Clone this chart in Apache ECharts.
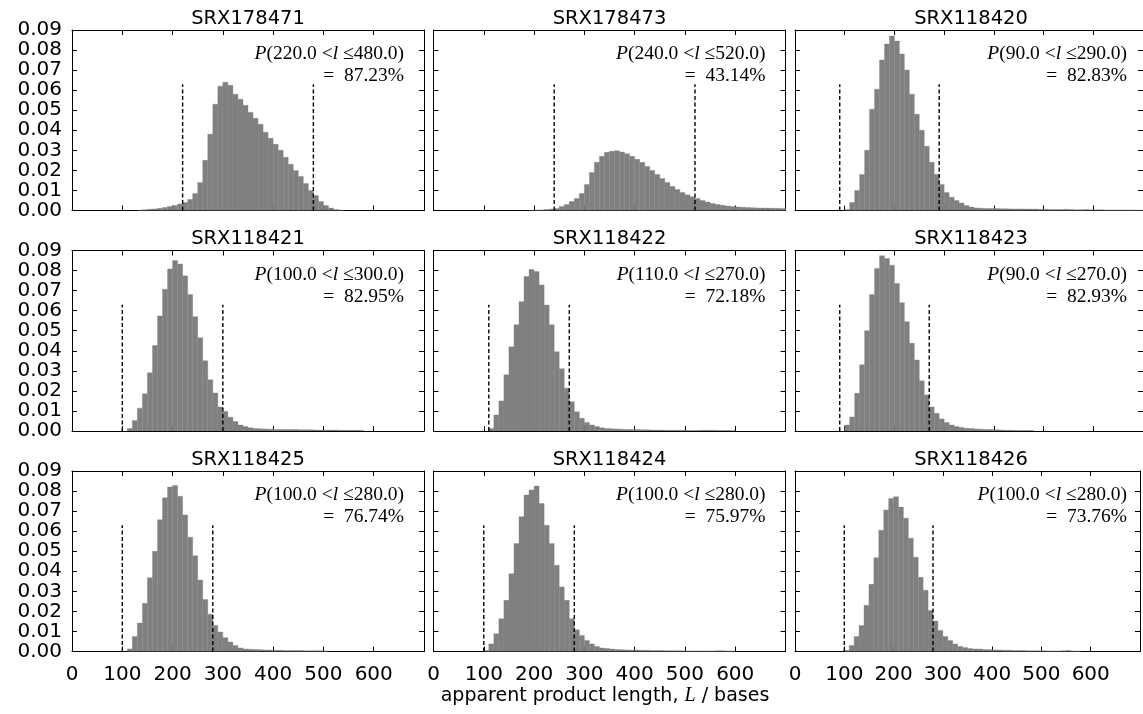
<!DOCTYPE html>
<html>
<head>
<meta charset="utf-8">
<title>apparent product length</title>
<script src="https://cdn.jsdelivr.net/npm/echarts@6/dist/echarts.min.js"></script>
<style>
html, body { margin: 0; padding: 0; background: #fff; }
#main { width: 1143px; height: 714px; }
</style>
</head>
<body>
<div id="main"></div>
<script>
// one panel per sample, row by row
const samples = ['SRX178471', 'SRX178473', 'SRX118420', 'SRX118421', 'SRX118422', 'SRX118423', 'SRX118425', 'SRX118424', 'SRX118426'];
// size window (dashed lines) and share of reads inside it
const lowCut = [220, 240, 90, 100, 110, 90, 100, 100, 100];
const highCut = [480, 520, 290, 300, 270, 270, 280, 280, 280];
const insideShare = ['87.23', '43.14', '82.83', '82.95', '72.18', '82.93', '76.74', '75.97', '73.76'];
// height the dashed lines reach
const cutTop = 0.063;

// histograms, 10 bases per bin, firstBin = left edge of first bin
const binWidth = 10;
const firstBin = [130, 190, 100, 110, 110, 100, 110, 100, 100];
const histSRX178471 = [0.0002, 0.0004, 0.0006, 0.0008, 0.0011, 0.0015, 0.002, 0.0025, 0.0032, 0.004, 0.0055, 0.0085, 0.014, 0.025, 0.038, 0.053, 0.062, 0.064, 0.0625, 0.058, 0.0555, 0.0525, 0.049, 0.046, 0.043, 0.039, 0.036, 0.033, 0.030, 0.0265, 0.023, 0.020, 0.017, 0.0135, 0.010, 0.0075, 0.0045, 0.0025, 0.0012, 0.0005, 0.0002];
const histSRX178473 = [0.0001, 0.0002, 0.0003, 0.0005, 0.0007, 0.001, 0.002, 0.003, 0.0045, 0.006, 0.0085, 0.013, 0.019, 0.024, 0.027, 0.029, 0.0295, 0.0298, 0.0292, 0.0283, 0.027, 0.0255, 0.024, 0.022, 0.020, 0.018, 0.016, 0.014, 0.012, 0.0105, 0.009, 0.0078, 0.0068, 0.006, 0.005, 0.0042, 0.0035, 0.003, 0.0026, 0.0022, 0.002, 0.0018, 0.0016, 0.0015, 0.0014, 0.0013, 0.0012, 0.0012, 0.0011, 0.0011, 0.001];
const histSRX118420 = [0.0005, 0.004, 0.010, 0.018, 0.030, 0.0505, 0.0605, 0.075, 0.083, 0.087, 0.0845, 0.078, 0.070, 0.058, 0.048, 0.040, 0.032, 0.024, 0.018, 0.013, 0.009, 0.0066, 0.005, 0.0037, 0.0025, 0.0017, 0.0013, 0.0011, 0.001, 0.001, 0.001, 0.0009, 0.0009, 0.0008, 0.0008, 0.0008, 0.0007, 0.0007, 0.0007, 0.0006, 0.0006, 0.0005, 0.0005, 0.0005, 0.0006, 0.0005, 0.0004, 0.0004, 0.0005, 0.0004, 0.0004, 0.0004, 0.0003, 0.0003, 0.0003, 0.0003, 0.0003, 0.0003, 0.0002, 0.0002];
const histSRX118421 = [0.0013, 0.0052, 0.0114, 0.0186, 0.029, 0.0426, 0.0574, 0.0707, 0.0808, 0.085, 0.0833, 0.0774, 0.068, 0.057, 0.0465, 0.035, 0.0256, 0.019, 0.012, 0.0097, 0.0069, 0.0047, 0.003, 0.0022, 0.0016, 0.0013, 0.0011, 0.001, 0.0009, 0.0008, 0.0008, 0.0007, 0.0007, 0.0007, 0.0006, 0.0006, 0.0006, 0.0005, 0.0005, 0.0005, 0.0005, 0.0005, 0.0004, 0.0004, 0.0004, 0.0004, 0.0003];
const histSRX118422 = [0.0013, 0.008, 0.015, 0.028, 0.042, 0.053, 0.0645, 0.077, 0.0805, 0.0795, 0.0728, 0.0628, 0.053, 0.0395, 0.031, 0.0213, 0.0146, 0.0096, 0.0063, 0.0043, 0.003, 0.0022, 0.0016, 0.0013, 0.0011, 0.001, 0.0009, 0.0008, 0.0007, 0.0007, 0.0006, 0.0006, 0.0005, 0.0005, 0.0005, 0.0004, 0.0004, 0.0004, 0.0004, 0.0003, 0.0003, 0.0003, 0.0004, 0.0004, 0.0004, 0.0003, 0.0003, 0.0002, 0.0002];
const histSRX118423 = [0.003, 0.007, 0.0188, 0.033, 0.050, 0.068, 0.081, 0.0874, 0.086, 0.0827, 0.0736, 0.064, 0.0545, 0.0437, 0.0354, 0.025, 0.018, 0.012, 0.0088, 0.006, 0.0042, 0.003, 0.0022, 0.0017, 0.0014, 0.0012, 0.001, 0.0009, 0.0008, 0.0007, 0.0006, 0.0005, 0.0004, 0.0004, 0.0003, 0.0003, 0.0002, 0.0002];
const histSRX118425 = [0.0013, 0.0075, 0.0142, 0.024, 0.0368, 0.050, 0.0657, 0.0766, 0.082, 0.0828, 0.0774, 0.068, 0.057, 0.0477, 0.0356, 0.0259, 0.0186, 0.013, 0.0097, 0.0069, 0.0047, 0.003, 0.0018, 0.0013, 0.0011, 0.001, 0.0009, 0.0008, 0.0007, 0.0006, 0.0006, 0.0005, 0.0005, 0.0005, 0.0005, 0.0004, 0.0004, 0.0004, 0.0004, 0.0003];
const histSRX118424 = [0.0005, 0.0038, 0.0088, 0.0163, 0.0255, 0.0388, 0.0538, 0.0672, 0.078, 0.0805, 0.0825, 0.0738, 0.063, 0.0538, 0.043, 0.0322, 0.0255, 0.0163, 0.0108, 0.008, 0.0055, 0.0038, 0.0025, 0.0018, 0.0015, 0.0012, 0.001, 0.0009, 0.0008, 0.0007, 0.0007, 0.0006, 0.0006, 0.0005, 0.0005, 0.0005, 0.0004, 0.0004, 0.0004, 0.0004, 0.0003, 0.0003, 0.0003, 0.0003, 0.0003, 0.0003, 0.0004, 0.0004, 0.0003, 0.0002];
const histSRX118426 = [0.0005, 0.003, 0.0075, 0.013, 0.023, 0.0335, 0.0468, 0.0605, 0.0705, 0.0763, 0.0772, 0.072, 0.0665, 0.0565, 0.047, 0.037, 0.0305, 0.0205, 0.0152, 0.0105, 0.0075, 0.0055, 0.0038, 0.0025, 0.002, 0.0015, 0.0013, 0.0012, 0.001, 0.0009, 0.0008, 0.0007, 0.0006, 0.0006, 0.0005, 0.0005, 0.0005, 0.0004, 0.0004, 0.0004, 0.0004, 0.0003, 0.0003, 0.0003, 0.0004, 0.0005, 0.0003, 0.0002];
const hists = [histSRX178471, histSRX178473, histSRX118420, histSRX118421, histSRX118422, histSRX118423, histSRX118425, histSRX118424, histSRX118426];

// axis ranges
const xMin = 0, xMax = 700, xStep = 100;
const yMin = 0, yMax = 0.09, yStep = 0.01;

// panel layout (px)
const colLeft = [72, 433.5, 795];
const rowTop = [30, 250.5, 471];
const plotW = 352, plotH = 180.5;

const black = '#000';
const barGray = '#808080';
const sans = 'DejaVu Sans';
const serif = 'Liberation Serif';

const grids = [], xAxes = [], yAxes = [], series = [], graphics = [];

function frameAxis(extra) {
    return Object.assign({
        type: 'value',
        axisLine: { show: true, onZero: false, lineStyle: { color: black, width: 1 } },
        axisTick: { show: true, inside: true, length: 5, lineStyle: { color: black, width: 1 } },
        splitLine: { show: false },
        axisLabel: { show: false }
    }, extra);
}

// draws one histogram bin from [start, end, value]
function renderBin(params, api) {
    const a = api.coord([api.value(0), api.value(2)]);
    const b = api.coord([api.value(1), 0]);
    return {
        type: 'rect',
        shape: { x: a[0], y: a[1], width: b[0] - a[0], height: b[1] - a[1] },
        style: { fill: barGray, stroke: barGray, lineWidth: 0.35 }
    };
}

samples.forEach(function (name, i) {
    const row = Math.floor(i / 3), col = i % 3;
    const left = colLeft[col], top = rowTop[row];
    grids.push({ left: left, top: top, width: plotW, height: plotH });

    // bottom / top x axes
    xAxes.push(frameAxis({
        gridIndex: i, position: 'bottom', min: xMin, max: xMax, interval: xStep,
        axisLabel: {
            show: row === 2, margin: 13, color: black, fontFamily: sans, fontSize: 20,
            formatter: function (v) { return v === xMax ? '' : String(v); }
        }
    }));
    xAxes.push(frameAxis({ gridIndex: i, position: 'top', min: xMin, max: xMax, interval: xStep }));
    // left / right y axes
    yAxes.push(frameAxis({
        gridIndex: i, position: 'left', min: yMin, max: yMax, interval: yStep,
        axisLabel: {
            show: col === 0, margin: 10, color: black, fontFamily: sans, fontSize: 20,
            formatter: function (v) { return v.toFixed(2); }
        }
    }));
    yAxes.push(frameAxis({ gridIndex: i, position: 'right', min: yMin, max: yMax, interval: yStep }));

    const bins = hists[i].map(function (v, k) {
        const s = firstBin[i] + k * binWidth;
        return [s, s + binWidth, v];
    });
    series.push({
        type: 'custom', xAxisIndex: 2 * i, yAxisIndex: 2 * i,
        data: bins, encode: { x: [0, 1], y: 2 }, renderItem: renderBin, clip: true, silent: true
    });

    // dashed window limits
    [lowCut[i], highCut[i]].forEach(function (c) {
        series.push({
            type: 'line', xAxisIndex: 2 * i, yAxisIndex: 2 * i, z: 5,
            data: [[c, 0], [c, cutTop]], symbol: 'none', silent: true,
            lineStyle: { color: black, width: 1.4, type: [4, 2.5] }
        });
    });

    // panel title
    graphics.push({
        type: 'text', x: left + plotW / 2, y: top - 11.5,
        style: {
            text: name, fontFamily: sans, fontSize: 19.5, fill: black,
            align: 'center', verticalAlign: 'middle', textAlign: 'center', textVerticalAlign: 'middle'
        }
    });
    // probability annotation
    const rx = left + plotW - 20;
    graphics.push({
        type: 'text', x: rx, y: top + 24,
        style: {
            text: '{i|P}(' + lowCut[i].toFixed(1) + ' <{i|l} \u2264' + highCut[i].toFixed(1) + ')',
            fontFamily: serif, fontSize: 19.5, fill: black,
            align: 'right', verticalAlign: 'middle', textAlign: 'right', textVerticalAlign: 'middle',
            rich: { i: { fontFamily: serif, fontSize: 19.5, fontStyle: 'italic', fill: black } }
        }
    });
    graphics.push({
        type: 'text', x: rx, y: top + 46,
        style: {
            text: '=  ' + insideShare[i] + '%', fontFamily: serif, fontSize: 19.5, fill: black,
            align: 'right', verticalAlign: 'middle', textAlign: 'right', textVerticalAlign: 'middle'
        }
    });
});

// shared x axis title
graphics.push({
    type: 'text', x: 605, y: 696,
    style: {
        text: 'apparent product length, {i|L} / bases', fontFamily: sans, fontSize: 19, fill: black,
        align: 'center', verticalAlign: 'middle', textAlign: 'center', textVerticalAlign: 'middle',
        rich: { i: { fontFamily: serif, fontSize: 20, fontStyle: 'italic', fill: black } }
    }
});

const chart = echarts.init(document.getElementById('main'), null, { renderer: 'canvas' });
chart.setOption({
    backgroundColor: '#fff',
    animation: false,
    grid: grids,
    xAxis: xAxes,
    yAxis: yAxes,
    series: series,
    graphic: graphics
});
</script>
</body>
</html>
